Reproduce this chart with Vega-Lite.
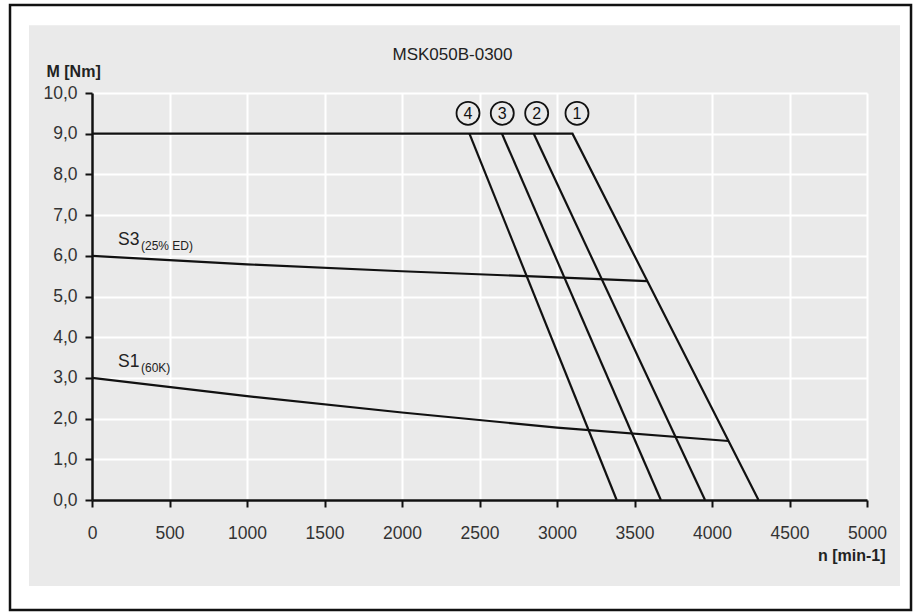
{
  "$schema": "https://vega.github.io/schema/vega-lite/v6.json",
  "width": 775,
  "height": 407,
  "autosize": {"type": "none"},
  "padding": {"left": 92, "top": 93, "right": 53, "bottom": 112},
  "background": "#eaeaea",
  "title": {"text": "MSK050B-0300", "font": "Liberation Sans", "fontSize": 17, "fontWeight": "normal", "color": "#222222", "anchor": "middle", "frame": "group", "baseline": "bottom", "dx": -27, "offset": -114},
  "config": {"view": {"stroke": null}, "font": "Liberation Sans"},
  "datasets": {
    "curves": [
      {"curve": "1", "i": 0, "n": 0, "M": 9},
      {"curve": "1", "i": 1, "n": 3100, "M": 9},
      {"curve": "1", "i": 2, "n": 4300, "M": 0},
      {"curve": "2", "i": 0, "n": 2850, "M": 9},
      {"curve": "2", "i": 1, "n": 3955, "M": 0},
      {"curve": "3", "i": 0, "n": 2645, "M": 9},
      {"curve": "3", "i": 1, "n": 3670, "M": 0},
      {"curve": "4", "i": 0, "n": 2435, "M": 9},
      {"curve": "4", "i": 1, "n": 3385, "M": 0},
      {"curve": "S3", "i": 0, "n": 0, "M": 6.0},
      {"curve": "S3", "i": 1, "n": 1000, "M": 5.79},
      {"curve": "S3", "i": 2, "n": 2000, "M": 5.62},
      {"curve": "S3", "i": 3, "n": 3000, "M": 5.47},
      {"curve": "S3", "i": 4, "n": 3583, "M": 5.38},
      {"curve": "S1", "i": 0, "n": 0, "M": 3.0},
      {"curve": "S1", "i": 1, "n": 1000, "M": 2.55},
      {"curve": "S1", "i": 2, "n": 2000, "M": 2.15},
      {"curve": "S1", "i": 3, "n": 3000, "M": 1.78},
      {"curve": "S1", "i": 4, "n": 4107, "M": 1.45}
    ],
    "labels": [
      {"kind": "main", "text": "S3", "n": 168, "M": 6.40},
      {"kind": "sub", "text": "(25% ED)", "n": 316, "M": 6.24},
      {"kind": "main", "text": "S1", "n": 168, "M": 3.40},
      {"kind": "sub", "text": "(60K)", "n": 316, "M": 3.25}
    ],
    "markers": [
      {"text": "4", "n": 2426, "M": 9.5},
      {"text": "3", "n": 2647, "M": 9.5},
      {"text": "2", "n": 2869, "M": 9.5},
      {"text": "1", "n": 3129, "M": 9.5}
    ]
  },
  "layer": [
    {
      "data": {"name": "curves"},
      "mark": {"type": "line", "color": "#111111", "strokeWidth": 2.2},
      "encoding": {
        "x": {
          "field": "n", "type": "quantitative",
          "scale": {"domain": [0, 5000], "nice": false},
          "axis": {
            "title": "n [min-1]",
            "values": [0, 500, 1000, 1500, 2000, 2500, 3000, 3500, 4000, 4500, 5000],
            "format": "d",
            "labelFlush": false, "labelOverlap": false,
            "grid": true, "gridColor": "#ffffff", "gridWidth": 2, "gridOpacity": 1,
            "domainColor": "#111111", "domainWidth": 2.5,
            "tickColor": "#111111", "tickWidth": 2, "tickSize": 7,
            "labelFont": "Liberation Sans", "labelFontSize": 17.5, "labelColor": "#333333", "labelPadding": 17,
            "titleFont": "Liberation Sans", "titleFontSize": 16, "titleFontWeight": "bold", "titleColor": "#222222",
            "titleAlign": "right", "titleBaseline": "middle", "titleX": 793, "titleY": 55
          }
        },
        "y": {
          "field": "M", "type": "quantitative",
          "scale": {"domain": [0, 10], "nice": false},
          "axis": {
            "title": "M [Nm]",
            "values": [0, 1, 2, 3, 4, 5, 6, 7, 8, 9, 10],
            "labelExpr": "replace(format(datum.value, '.1f'), '.', ',')",
            "labelFlush": false, "labelOverlap": false,
            "grid": true, "gridColor": "#ffffff", "gridWidth": 2, "gridOpacity": 1,
            "domainColor": "#111111", "domainWidth": 2.5,
            "tickColor": "#111111", "tickWidth": 2, "tickSize": 7,
            "labelFont": "Liberation Sans", "labelFontSize": 17.5, "labelColor": "#333333", "labelPadding": 8,
            "titleFont": "Liberation Sans", "titleFontSize": 16, "titleFontWeight": "bold", "titleColor": "#222222",
            "titleAngle": 0, "titleAlign": "left", "titleBaseline": "middle", "titleX": -46, "titleY": -22
          }
        },
        "detail": {"field": "curve"},
        "order": {"field": "i"}
      }
    },
    {
      "data": {"name": "labels"},
      "transform": [{"filter": "datum.kind === 'main'"}],
      "mark": {"type": "text", "align": "left", "baseline": "middle", "fontSize": 17.5, "color": "#222222", "font": "Liberation Sans"},
      "encoding": {
        "x": {"field": "n", "type": "quantitative"},
        "y": {"field": "M", "type": "quantitative"},
        "text": {"field": "text"}
      }
    },
    {
      "data": {"name": "labels"},
      "transform": [{"filter": "datum.kind === 'sub'"}],
      "mark": {"type": "text", "align": "left", "baseline": "middle", "fontSize": 12, "color": "#222222", "font": "Liberation Sans"},
      "encoding": {
        "x": {"field": "n", "type": "quantitative"},
        "y": {"field": "M", "type": "quantitative"},
        "text": {"field": "text"}
      }
    },
    {
      "data": {"name": "markers"},
      "mark": {"type": "point", "shape": "circle", "size": 529, "filled": false, "stroke": "#111111", "strokeWidth": 1.8, "opacity": 1},
      "encoding": {
        "x": {"field": "n", "type": "quantitative"},
        "y": {"field": "M", "type": "quantitative"}
      }
    },
    {
      "data": {"name": "markers"},
      "mark": {"type": "text", "align": "center", "baseline": "middle", "fontSize": 16, "color": "#111111", "font": "Liberation Sans", "dy": 1},
      "encoding": {
        "x": {"field": "n", "type": "quantitative"},
        "y": {"field": "M", "type": "quantitative"},
        "text": {"field": "text"}
      }
    },
    {
      "data": {"values": [{}]},
      "mark": {"type": "rect", "fill": "none", "stroke": "#ffffff", "strokeWidth": 58},
      "encoding": {
        "x": {"datum": -593.5, "type": "quantitative"},
        "x2": {"datum": 5400},
        "y": {"datum": 12.38, "type": "quantitative"},
        "y2": {"datum": -2.826}
      }
    },
    {
      "data": {"values": [{}]},
      "mark": {"type": "rect", "fill": "none", "stroke": "#111111", "strokeWidth": 2.5},
      "encoding": {
        "x": {"datum": -529, "type": "quantitative"},
        "x2": {"datum": 5284},
        "y": {"datum": 12.16, "type": "quantitative"},
        "y2": {"datum": -2.70}
      }
    }
  ]
}
